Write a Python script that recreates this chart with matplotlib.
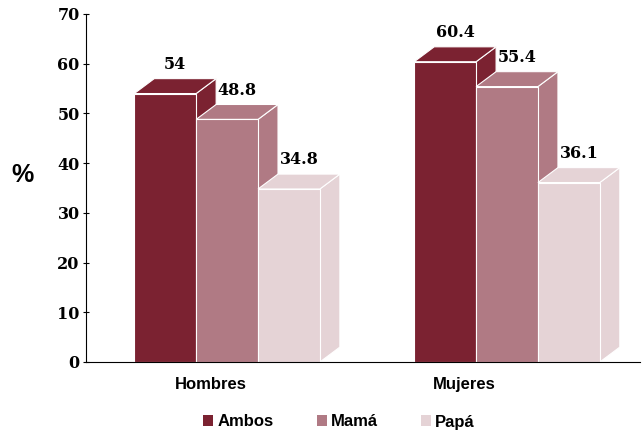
import matplotlib.pyplot as plt
from matplotlib.patches import Polygon, Patch

# datos
grupos = ["Hombres", "Mujeres"]
series = ["Ambos", "Mamá", "Papá"]
ambos = [54, 60.4]
mama = [48.8, 55.4]
papa = [34.8, 36.1]
etiquetas_y = [0, 10, 20, 30, 40, 50, 60, 70]

colores = ["#7b2231", "#b07a84", "#e5d3d6"]
valores = [ambos, mama, papa]

fig = plt.figure(figsize=(6.43, 4.34), dpi=100)
ax = fig.add_axes([86 / 643, 72 / 434, 554 / 643, 348 / 434])

ancho = 0.221        # ancho de cada barra
dx, dy = 0.0714, 3.0  # profundidad del efecto 3D
centros = [0, 1]

for g, c in enumerate(centros):
    for s in range(3):
        v = valores[s][g]
        x0 = c + (s - 1.5) * ancho
        x1 = x0 + ancho
        col = colores[s]
        kw = dict(facecolor=col, edgecolor="white", linewidth=0.8)
        # cara lateral
        ax.add_patch(Polygon([(x1, 0), (x1 + dx, dy), (x1 + dx, v + dy), (x1, v)], **kw))
        # cara superior
        ax.add_patch(Polygon([(x0, v), (x0 + dx, v + dy), (x1 + dx, v + dy), (x1, v)], **kw))
        # cara frontal
        ax.add_patch(Polygon([(x0, 0), (x0, v), (x1, v), (x1, 0)], **kw))
        txt = f"{v:g}"
        ax.text((x0 + x1) / 2 + dx / 2, v + dy + 1.2, txt, ha="center", va="bottom",
                fontsize=11.5, fontweight="bold", family="DejaVu Serif")

ax.set_xlim(-0.504, 1.475)
ax.set_ylim(0, 70)
ax.set_yticks(etiquetas_y)
ax.set_yticklabels([str(t) for t in etiquetas_y], fontsize=11.5, fontweight="bold",
                   family="DejaVu Serif")
ax.tick_params(axis="y", length=5, width=0.8, pad=2, direction="inout")
ax.set_xticks([-0.057, 0.846])
ax.set_xticklabels(grupos, fontsize=12, fontweight="bold", family="Liberation Sans")
ax.tick_params(axis="x", length=0, pad=11)
for sp in ["top", "right"]:
    ax.spines[sp].set_visible(False)
ax.spines["left"].set_linewidth(0.8)
ax.spines["bottom"].set_linewidth(0.8)

fig.text(22 / 643, 1 - 175 / 434, "%", ha="center", va="center", fontsize=18,
         fontweight="bold", family="Liberation Sans")

handles = [Patch(facecolor=col, edgecolor="none") for col in colores]
fig.legend(handles, series, loc="center", bbox_to_anchor=(339 / 643, 1 - 422 / 434), ncol=3,
           frameon=False, handlelength=0.6, handleheight=0.6, handletextpad=0.25,
           columnspacing=2.6, prop=dict(family="Liberation Sans", weight="bold", size=12))

fig.savefig("out.png", dpi=100)
